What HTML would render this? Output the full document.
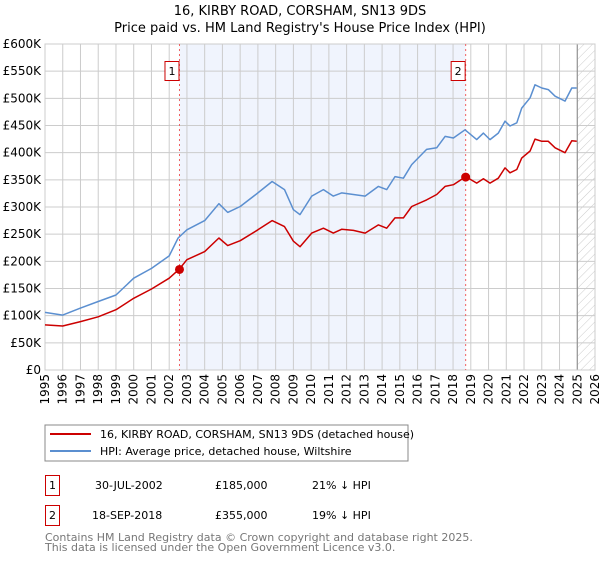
<!DOCTYPE html>
<html><head><meta charset="utf-8"><style>
body{margin:0;background:#fff;font-family:"DejaVu Sans","Liberation Sans",sans-serif}
svg text{font-family:"DejaVu Sans","Liberation Sans",sans-serif}
</style></head><body>
<svg id="c" width="600" height="560" xmlns="http://www.w3.org/2000/svg">
<defs><pattern id="hatch" width="6" height="6" patternUnits="userSpaceOnUse" patternTransform="rotate(45)"><line x1="0" y1="0" x2="0" y2="6" stroke="#ccc" stroke-width="1"/></pattern></defs>
<text x="300" y="15" text-anchor="middle" font-size="13">16, KIRBY ROAD, CORSHAM, SN13 9DS</text>
<text x="300" y="32" text-anchor="middle" font-size="13">Price paid vs. HM Land Registry's House Price Index (HPI)</text>
<g id="plot"></g>
<rect x="45" y="425" width="363" height="36" fill="#fff" stroke="#888"/>
<line x1="50" y1="434" x2="91" y2="434" stroke="#cc0000" stroke-width="2"/>
<text x="100" y="438" font-size="11">16, KIRBY ROAD, CORSHAM, SN13 9DS (detached house)</text>
<line x1="50" y1="451" x2="91" y2="451" stroke="#5b8fd0" stroke-width="2"/>
<text x="100" y="455" font-size="11">HPI: Average price, detached house, Wiltshire</text>
<g>
<rect x="45.5" y="475.5" width="14" height="20" fill="none" stroke="#cc0000"/><text x="52.5" y="489" text-anchor="middle" font-size="11">1</text>
<text x="95" y="489" font-size="11">30-JUL-2002</text><text x="215" y="489" font-size="11">£185,000</text><text x="312" y="489" font-size="11">21% ↓ HPI</text></g>
<g>
<rect x="45.5" y="505.5" width="14" height="20" fill="none" stroke="#cc0000"/><text x="52.5" y="519" text-anchor="middle" font-size="11">2</text>
<text x="92" y="519" font-size="11">18-SEP-2018</text><text x="215" y="519" font-size="11">£355,000</text><text x="312" y="519" font-size="11">19% ↓ HPI</text></g>
<text x="45" y="541" font-size="11" fill="#777">Contains HM Land Registry data © Crown copyright and database right 2025.</text>
<text x="45" y="551" font-size="11" fill="#777">This data is licensed under the Open Government Licence v3.0.</text>
</svg>
<script>
const hpiYears=[1995,1996,1997,1998,1999,2000,2001,2002,2002.5,2003,2004,2004.8,2005.3,2006,2007,2007.8,2008.5,2009,2009.37,2010.03,2010.69,2011.25,2011.72,2012.38,2013.04,2013.79,2014.26,2014.73,2015.2,2015.67,2016.51,2017.08,2017.55,2018.02,2018.67,2019.33,2019.71,2020.08,2020.55,2020.93,2021.21,2021.59,2021.87,2022.34,2022.62,2023.0,2023.37,2023.75,2024.31,2024.69,2024.97];
const hpiValues=[106,101,114,126,138,169,187,210,243,258,275,306,290,301,326,347,332,295,286,320,332,320,326,323,320,338,332,356,353,378,406,409,430,427,442,424,436,424,436,458,449,455,482,501,525,519,516,504,495,519,519];
const priceYears=[1995,1996,1997,1998,1999,2000,2001,2002,2002.58,2003,2004,2004.8,2005.3,2006,2007,2007.8,2008.5,2009,2009.37,2010.03,2010.69,2011.25,2011.72,2012.38,2013.04,2013.79,2014.26,2014.73,2015.2,2015.67,2016.51,2017.08,2017.55,2018.02,2018.71,2019.33,2019.71,2020.08,2020.55,2020.93,2021.21,2021.59,2021.87,2022.34,2022.62,2023.0,2023.37,2023.75,2024.31,2024.69,2024.97];
const priceValues=[83,81,89,98,111,132,149,169,186,203,218,243,229,238,258,275,264,237,227,252,261,252,259,257,252,267,261,280,280,301,313,323,338,341,356,344,352,344,353,372,363,369,390,403,425,421,421,409,400,422,421];
const saleYears=[2002.58,2018.71];
const saleValues=[185,355];
const saleLabels=["1","2"];
const yTicks=[0,50,100,150,200,250,300,350,400,450,500,550,600];
const yTickLabels=["£0","£50K","£100K","£150K","£200K","£250K","£300K","£350K","£400K","£450K","£500K","£550K","£600K"];
const xTicks=[1995,1996,1997,1998,1999,2000,2001,2002,2003,2004,2005,2006,2007,2008,2009,2010,2011,2012,2013,2014,2015,2016,2017,2018,2019,2020,2021,2022,2023,2024,2025,2026];
const dataEnd=2025.0;
const X0=45,X1=595,Y0=370,Y1=44;
const sx=y=>X0+(y-1995)/(2026-1995)*(X1-X0);
const sy=v=>Y0-v/600*(Y0-Y1);
const NS="http://www.w3.org/2000/svg";
const g=document.getElementById('plot');
function mk(t,a,p){const e=document.createElementNS(NS,t);for(const k in a)e.setAttribute(k,a[k]);(p||g).appendChild(e);return e;}
const shade=mk('rect',{x:sx(saleYears[0]),y:Y1,width:sx(saleYears[1])-sx(saleYears[0]),height:Y0-Y1,fill:'#f0f4fd'});


const hat=mk('rect',{x:sx(dataEnd),y:Y1,width:X1-sx(dataEnd),height:Y0-Y1,fill:'url(#hatch)'});


yTicks.forEach((v,i)=>{
 const l=mk('line',{x1:X0,x2:X1,y1:sy(v),y2:sy(v),stroke:'#ccc'});
 
 
 const t=mk('text',{x:X0-4,y:sy(v)+4,'text-anchor':'end','font-size':'12'});
 
 
 t.textContent=yTickLabels[i];
});
xTicks.forEach(y=>{
 const l=mk('line',{x1:sx(y),x2:sx(y),y1:Y1,y2:Y0,stroke:'#ccc'});
 
 
 const t=mk('text',{x:0,y:0,'text-anchor':'end','font-size':'12',transform:`translate(${sx(y)+4},374) rotate(-90)`});
 
 
 t.textContent=y;
});
const el=mk('line',{x1:sx(dataEnd),x2:sx(dataEnd),y1:Y1,y2:Y0,stroke:'#888'});


const fr=mk('rect',{x:X0,y:Y1,width:X1-X0,height:Y0-Y1,fill:'none',stroke:'#ccc'});


saleYears.forEach((y,i)=>{
 const l=mk('line',{x1:sx(y),x2:sx(y),y1:Y1,y2:Y0,stroke:'#f06060','stroke-dasharray':'2,3'});
 
 
});
function line(xs,vs,c,n){
 const p=mk('polyline',{points:xs.map((y,i)=>sx(y).toFixed(1)+','+sy(vs[i]).toFixed(1)).join(' '),fill:'none',stroke:c,'stroke-width':'1.5','stroke-linejoin':'round'});
 
 
}
line(hpiYears,hpiValues,'#5b8fd0','hpi-line');
line(priceYears,priceValues,'#cc0000','price-line');
saleYears.forEach((y,i)=>{
 const c=mk('circle',{cx:sx(y),cy:sy(saleValues[i]),r:4.5,fill:'#cc0000'});
 
 
 const b=mk('rect',{x:sx(y)-14.5,y:61.5,width:14,height:19,fill:'#fff',stroke:'#cc0000'});
 
 
 const t=mk('text',{x:sx(y)-7.5,y:75,'text-anchor':'middle','font-size':'11'});
 
 
 t.textContent=saleLabels[i];
});
</script>
</body></html>
